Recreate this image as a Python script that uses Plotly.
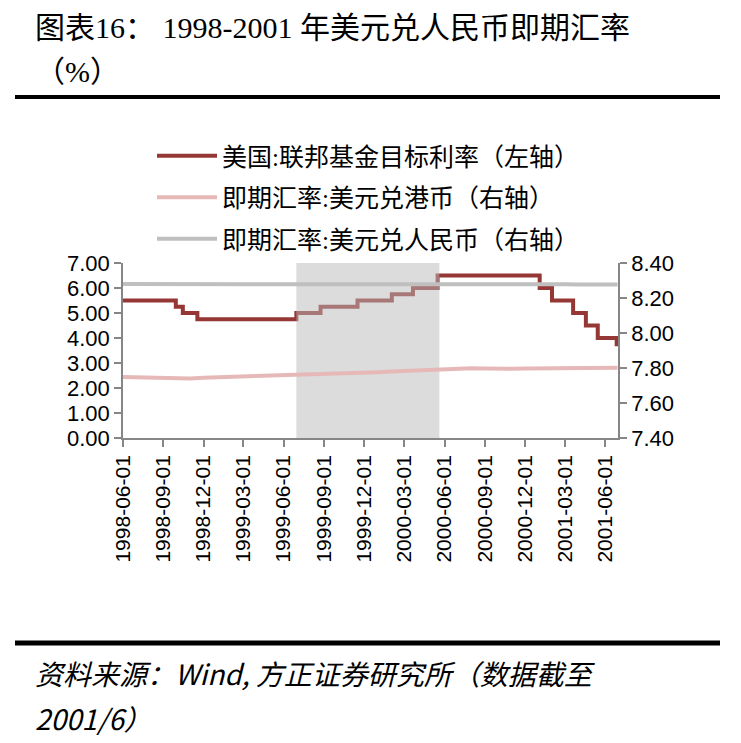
import pandas as pd
import plotly.graph_objects as go

# US fed funds target rate (left axis), step changes
fed_dates = ["1998-06-01", "1998-09-29", "1998-10-15", "1998-11-17", "1999-06-30",
             "1999-08-24", "1999-11-16", "2000-02-02", "2000-03-21", "2000-05-16",
             "2001-01-03", "2001-01-31", "2001-03-20", "2001-04-18", "2001-05-15",
             "2001-06-27", "2001-06-30"]
fed_rate = [5.50, 5.25, 5.00, 4.75, 5.00, 5.25, 5.50, 5.75, 6.00, 6.50,
            6.00, 5.50, 5.00, 4.50, 4.00, 3.75, 3.75]

# spot rates, monthly (right axis)
fx_dates = list(pd.date_range("1998-06-01", "2001-06-01", freq="MS").strftime("%Y-%m-%d")) + ["2001-06-29"]
usd_hkd = [7.748, 7.747, 7.746, 7.745, 7.742, 7.740, 7.745,
           7.747, 7.749, 7.751, 7.753, 7.756, 7.758, 7.760, 7.763, 7.766, 7.768, 7.770, 7.773,
           7.776, 7.780, 7.783, 7.786, 7.789, 7.793, 7.797, 7.799, 7.797, 7.794, 7.796, 7.797,
           7.798, 7.798, 7.799, 7.800, 7.801, 7.802, 7.802]
usd_cny = [8.2798, 8.2799, 8.2798, 8.2790, 8.2778, 8.2779, 8.2789,
           8.2795, 8.2791, 8.2792, 8.2795, 8.2789, 8.2776, 8.2772, 8.2775, 8.2780, 8.2778, 8.2782, 8.2795,
           8.2793, 8.2790, 8.2787, 8.2790, 8.2777, 8.2772, 8.2773, 8.2778, 8.2783, 8.2780, 8.2774, 8.2781,
           8.2786, 8.2779, 8.2779, 8.2773, 8.2771, 8.2770, 8.2770]

# tightening period shaded
shade_start = "1999-06-30"
shade_end = "2000-05-20"

tick_dates = pd.date_range("1998-06-01", "2001-06-01", freq="3MS")
tick_text = list(tick_dates.strftime("%Y-%m-%d"))

names = ["美国:联邦基金目标利率（左轴）", "即期汇率:美元兑港币（右轴）", "即期汇率:美元兑人民币（右轴）"]
colors = ["#953735", "#E6B9B8", "#BFBFBF"]

# page body has an 8px margin, so work in page pixels and shift
OFF = 8
W, H = 741 - OFF, 743 - OFF
L, R, T, B = 123 - OFF, 618 - OFF, 263 - OFF, 438 - OFF


def px_x(px):
    return (px - OFF - L) / (R - L)


def px_y(px):
    return (B - (px - OFF)) / (B - T)


cjk = "Noto Sans CJK SC"
serif = "Liberation Serif, Noto Sans CJK SC"
axis_grey = "#868686"

fig = go.Figure()

fig.add_trace(go.Scatter(x=fed_dates, y=fed_rate, name=names[0], mode="lines",
                         line=dict(color=colors[0], width=4, shape="hv"),
                         legendgroup="a", yaxis="y"))

# shade sits on the right-axis layer so the rate line shows through it
fig.add_trace(go.Scatter(x=[shade_start, shade_start, shade_end, shade_end],
                         y=[7.4, 8.4, 8.4, 7.4], fill="toself", mode="lines",
                         line=dict(width=0), fillcolor="rgba(186,186,186,0.5)",
                         showlegend=False, hoverinfo="skip", yaxis="y2"))

fig.add_trace(go.Scatter(x=fx_dates, y=usd_hkd, name=names[1], mode="lines",
                         line=dict(color=colors[1], width=4),
                         legendgroup="b", yaxis="y2"))
fig.add_trace(go.Scatter(x=fx_dates, y=usd_cny, name=names[2], mode="lines",
                         line=dict(color=colors[2], width=4),
                         legendgroup="c", yaxis="y2"))

fig.update_layout(
    width=W, height=H,
    margin=dict(l=L, r=W - R, t=T, b=H - B, autoexpand=False),
    plot_bgcolor="white", paper_bgcolor="white",
    font=dict(family=cjk, color="black"),
    showlegend=True,
    legend=dict(x=px_x(152), y=px_y(133), xanchor="left", yanchor="top",
                font=dict(size=25, family=serif), tracegroupgap=6,
                itemwidth=60, bgcolor="rgba(0,0,0,0)"),
    xaxis=dict(type="date", range=["1998-06-01", "2001-06-30"],
               tickvals=list(tick_dates), ticktext=tick_text, tickangle=-90,
               tickfont=dict(size=21, family="Liberation Sans"),
               showline=True, linecolor=axis_grey, linewidth=1.5,
               ticks="outside", ticklen=7, tickcolor=axis_grey, tickwidth=1.5,
               showgrid=False, zeroline=False),
    yaxis=dict(range=[0, 7], dtick=1, tickformat=".2f",
               tickfont=dict(size=22, family="Liberation Sans"),
               showline=True, linecolor=axis_grey, linewidth=1.5,
               ticks="outside", ticklen=7, tickcolor=axis_grey, tickwidth=1.5,
               showgrid=False, zeroline=False),
    yaxis2=dict(range=[7.4, 8.4], dtick=0.2, tickformat=".2f", overlaying="y", side="right",
                tickfont=dict(size=22, family="Liberation Sans"),
                showline=True, linecolor=axis_grey, linewidth=1.5,
                ticks="outside", ticklen=7, tickcolor=axis_grey, tickwidth=1.5,
                showgrid=False, zeroline=False),
)

# title, rules and source note
fig.add_annotation(text="图表16： 1998-2001 年美元兑人民币即期汇率", xref="paper", yref="paper",
                   x=px_x(33), y=px_y(28), xanchor="left", yanchor="middle",
                   showarrow=False, font=dict(size=30, family=serif))
fig.add_annotation(text="（%）", xref="paper", yref="paper",
                   x=px_x(33), y=px_y(71), xanchor="left", yanchor="middle",
                   showarrow=False, font=dict(size=30, family=serif))
fig.add_shape(type="line", xref="paper", yref="paper", x0=px_x(15), x1=px_x(720),
              y0=px_y(97), y1=px_y(97), line=dict(color="black", width=4))
fig.add_shape(type="line", xref="paper", yref="paper", x0=px_x(15), x1=px_x(720),
              y0=px_y(643), y1=px_y(643), line=dict(color="black", width=5))
fig.add_annotation(text="资料来源：Wind, 方正证券研究所（数据截至", xref="paper", yref="paper",
                   x=px_x(33), y=px_y(673), xanchor="left", yanchor="middle",
                   showarrow=False, font=dict(size=28, family=cjk, style="italic"))
fig.add_annotation(text="2001/6）", xref="paper", yref="paper",
                   x=px_x(33), y=px_y(718), xanchor="left", yanchor="middle",
                   showarrow=False, font=dict(size=28, family=cjk, style="italic"))

fig.write_html("out.html")
